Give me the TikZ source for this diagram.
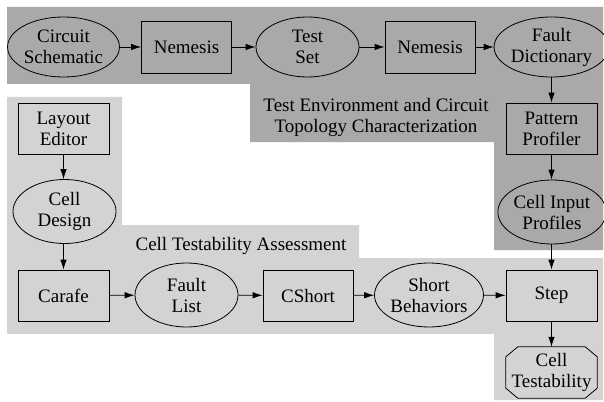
\documentclass[tikz,border=0pt]{standalone}
\usepackage{fontspec}
\setmainfont{Liberation Serif}
\newfontfamily\tmsfont{Liberation Serif}
\usetikzlibrary{shapes.geometric,arrows.meta}
\definecolor{darkbg}{RGB}{169,169,169}
\definecolor{lightbg}{RGB}{211,211,211}
\begin{document}
\begin{tikzpicture}[x=1pt,y=-1pt,
  every node/.style={font=\tmsfont\fontsize{19}{21}\selectfont, align=center, inner sep=0pt},
  boxnode/.style={draw, line width=0.8pt, rectangle, minimum width=90pt, minimum height=51pt},
  ellnode/.style={draw, line width=0.8pt, ellipse, minimum width=103pt, minimum height=62pt},
  octnode/.style={rectangle, minimum width=91pt, minimum height=51pt},
  conn/.style={draw, line width=0.8pt, -{Latex[length=10pt,width=6.5pt]}}
]
\useasboundingbox (0,0) rectangle (604,401);
% backgrounds
\fill[darkbg] (7,7) -- (603,7) -- (603,250) -- (494,250) -- (494,142) -- (250,142) -- (250,84) -- (7,84) -- cycle;
\fill[lightbg] (7,97) -- (122,97) -- (122,225) -- (359,225) -- (359,258) -- (603,258) -- (603,400) -- (494,400) -- (494,334) -- (7,334) -- cycle;
\node (lab1) at (376,117) {Test Environment and Circuit\\Topology Characterization};
\node (lab2) at (241,246) {Cell Testability Assessment};
% nodes
\node[ellnode, minimum height=60pt] (cs) at (63.5,47) {Circuit\\Schematic};
\node[boxnode, minimum height=52pt] (n1) at (186.5,47) {Nemesis};
\node[ellnode, minimum height=60pt] (ts) at (307.5,47) {Test\\Set};
\node[boxnode, minimum height=52pt] (n2) at (430,47) {Nemesis};
\node[ellnode, minimum width=102pt, minimum height=60pt] (fd) at (551.5,47) {Fault\\Dictionary};
\node[boxnode, minimum width=91pt] (pp) at (551.5,128.5) {Pattern\\Profiler};
\node[ellnode, minimum width=101pt, minimum height=64pt] (cip) at (552,212) {Cell Input\\Profiles};
\node[boxnode, minimum width=91pt] (step) at (551.5,295.5) {Step};
\node[octnode] (ct) at (551.5,372.5) {Cell\\Testability};
\draw[line width=0.8pt] ([xshift=12pt]ct.north west) -- ([xshift=-12pt]ct.north east)
  -- ([yshift=-10pt]ct.north east) -- ([yshift=10pt]ct.south east)
  -- ([xshift=-12pt]ct.south east) -- ([xshift=12pt]ct.south west)
  -- ([yshift=10pt]ct.south west) -- ([yshift=-10pt]ct.north west) -- cycle;
\node[boxnode, minimum width=91pt] (le) at (63.5,128.5) {Layout\\Editor};
\node[ellnode, minimum height=64pt] (cd) at (64.5,211.5) {Cell\\Design};
\node[boxnode, minimum width=91pt] (car) at (63.5,295.5) {Carafe};
\node[ellnode, minimum height=64pt] (fl) at (186.5,295) {Fault\\List};
\node[boxnode] (csh) at (308,295.5) {CShort};
\node[ellnode, minimum width=102pt, minimum height=64pt] (sb) at (429,295) {Short\\Behaviors};
% connectors
\draw[conn] (cs) -- (n1);
\draw[conn] (n1) -- (ts);
\draw[conn] (ts) -- (n2);
\draw[conn] (n2) -- (fd);
\draw[conn] (fd.south -| pp.north) -- (pp.north);
\draw[conn] (pp) -- (pp.south |- cip.north);
\draw[conn] (cip.south -| step.north) -- (step.north);
\draw[conn] (step) -- (ct);
\draw[conn] (le) -- (le.south |- cd.north);
\draw[conn] (cd.south -| car.north) -- (car.north);
\draw[conn] (car) -- (fl);
\draw[conn] (fl) -- (csh);
\draw[conn] (csh) -- (sb);
\draw[conn] (sb) -- (step);
\end{tikzpicture}
\end{document}
